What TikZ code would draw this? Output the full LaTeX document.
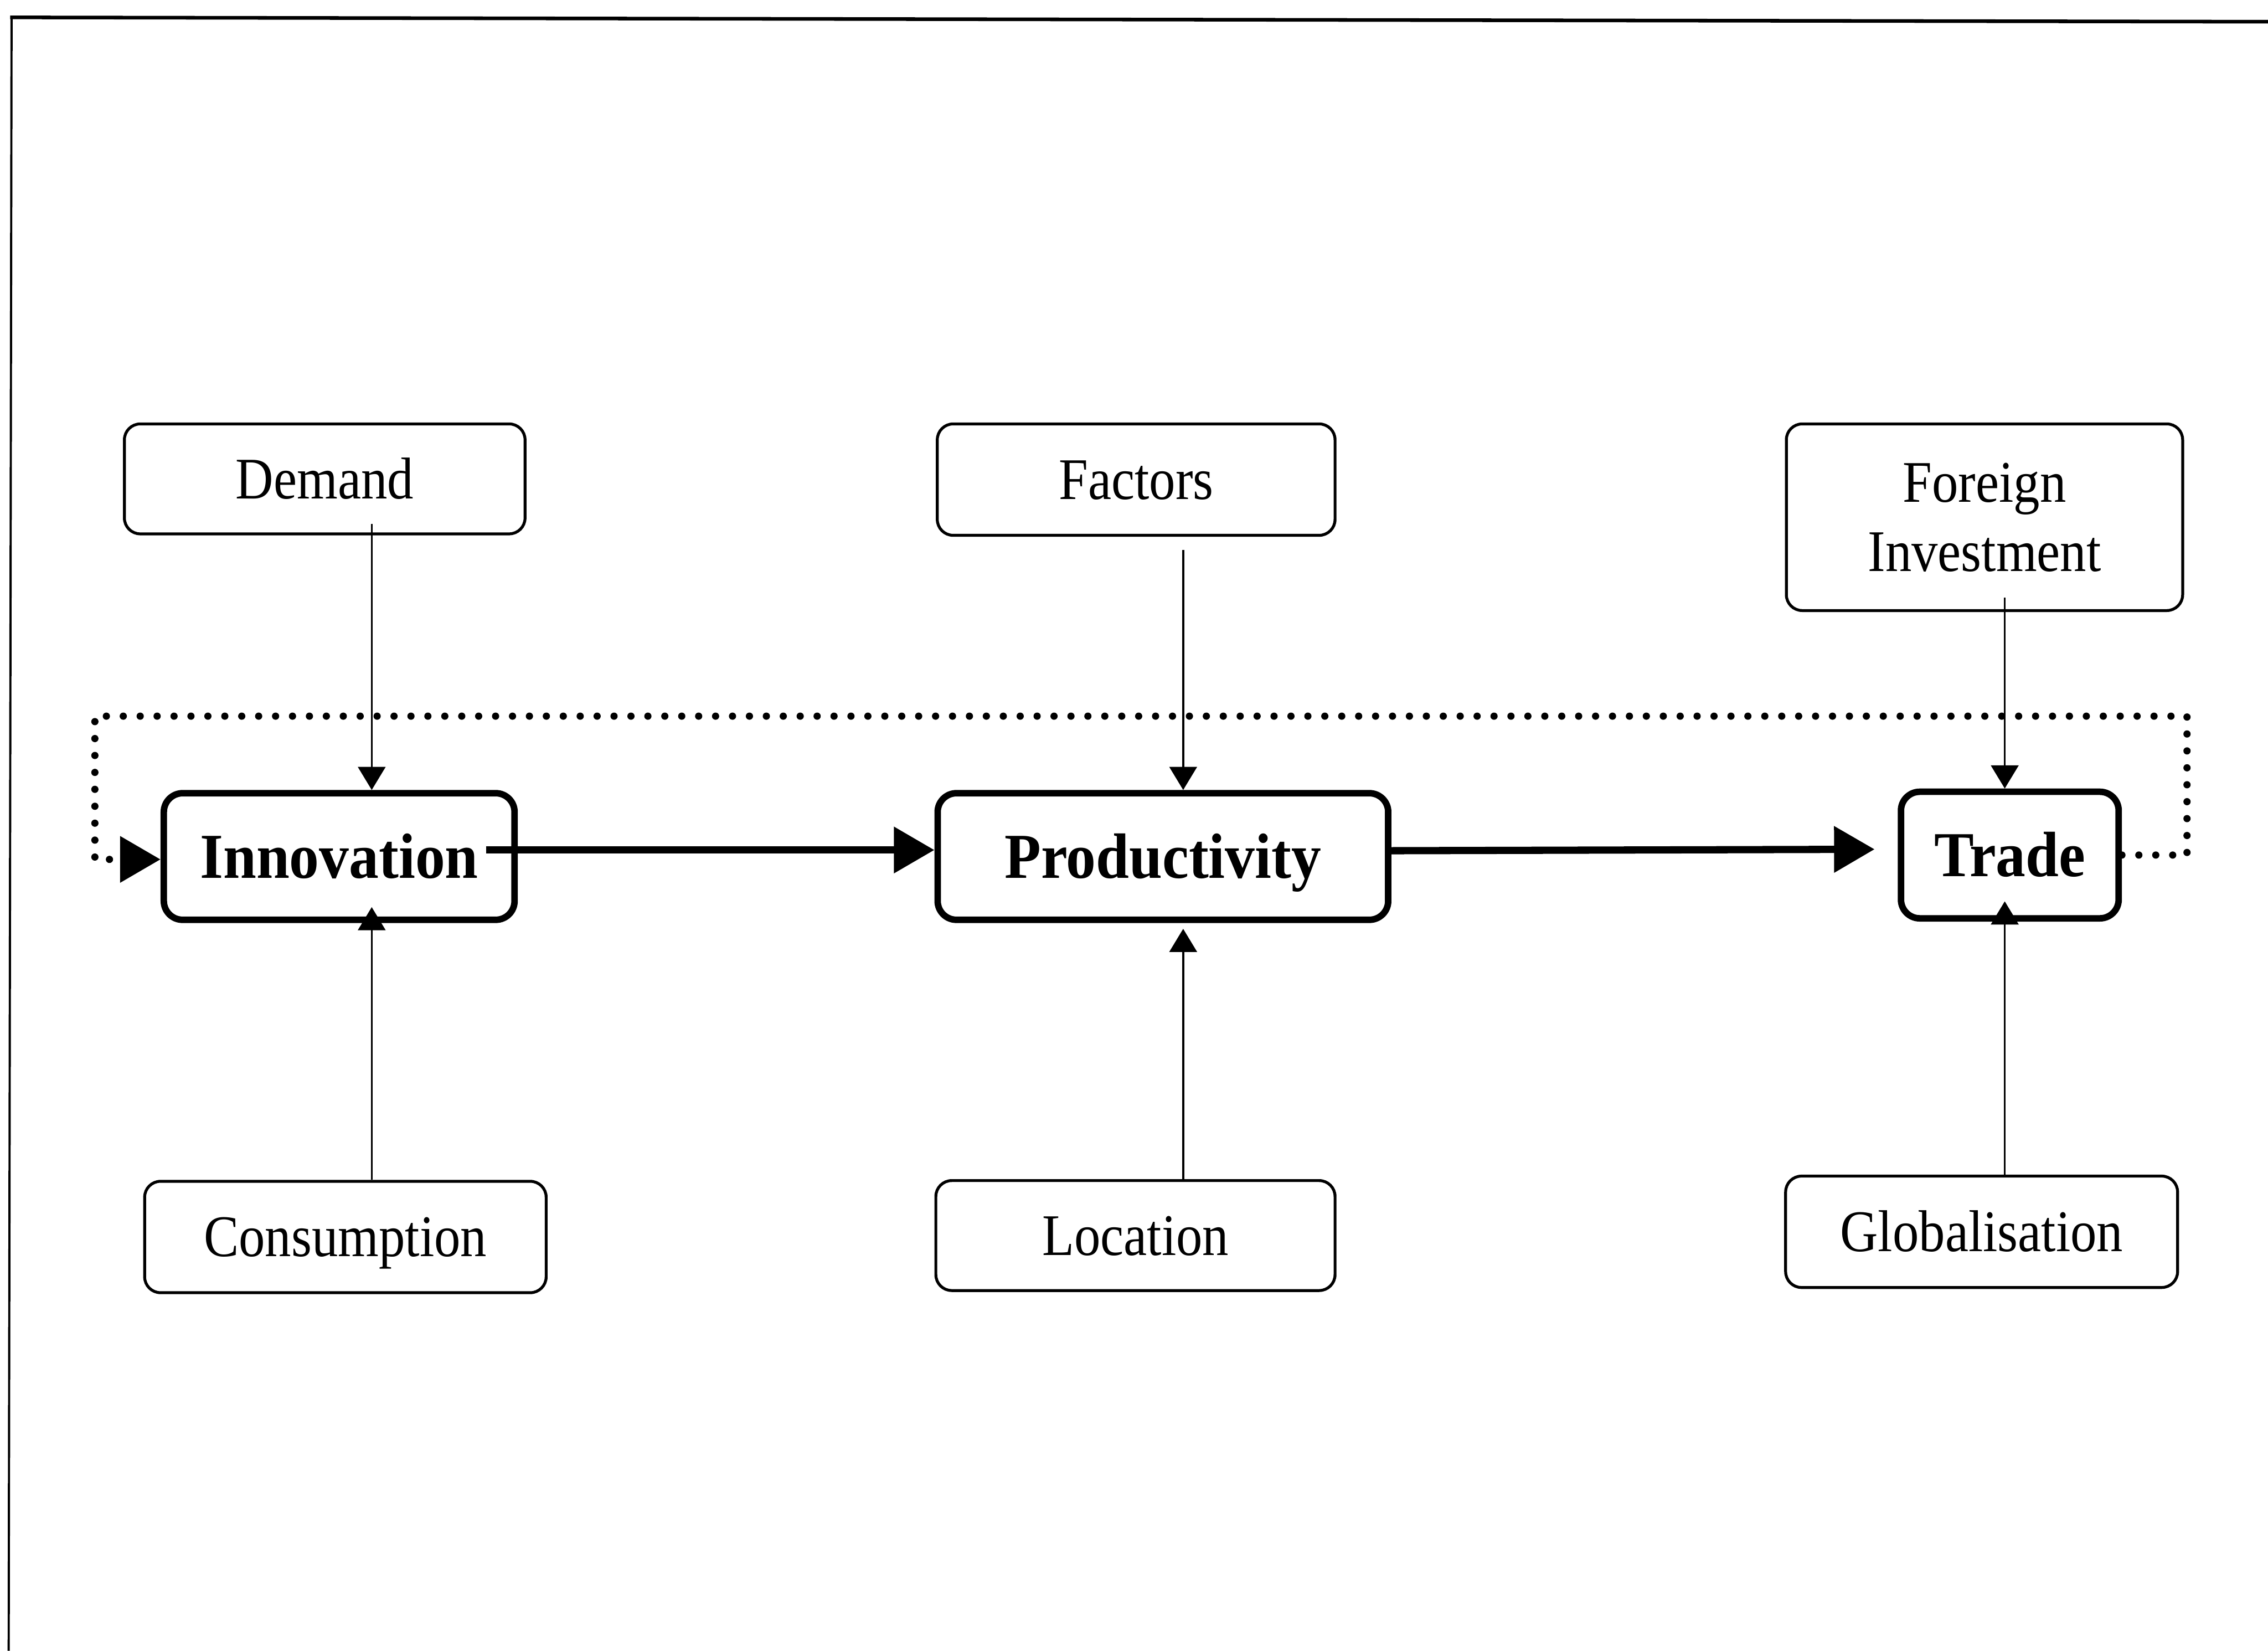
\documentclass[tikz,border=0pt]{standalone}
\usepackage{fontspec}
\setmainfont{Liberation Serif}
\newfontfamily\regfont{Liberation Serif}[FakeStretch=0.89]
\newfontfamily\boldfont{Liberation Serif}[FakeStretch=0.93]
\usetikzlibrary{arrows.meta}
\begin{document}
\begin{tikzpicture}[x=0.1mm,y=-0.1mm,
  smallbox/.style={draw, rounded corners=1.1mm, line width=0.2mm, inner sep=0pt,
    font=\regfont\fontsize{11.6}{13.6}\selectfont, align=center},
  onerow/.style={text height=7.7pt, text depth=0pt},
  mainbox/.style={draw, rounded corners=1.3mm, line width=0.45mm, inner sep=0pt,
    text height=8.5pt, text depth=0pt,
    font=\boldfont\bfseries\fontsize{12.6}{14}\selectfont},
  thinarrow/.style={line width=0.14mm, -{Triangle[length=1.6mm,width=1.9mm]}},
  thickarrow/.style={line width=0.5mm, -{Triangle[length=2.8mm,width=3.1mm]}},
  dotline/.style={line width=0.5mm, dash pattern=on 0pt off 1.17mm, line cap=round,
    -{Triangle[length=2.8mm,width=3.1mm]}},
  framestroke/.style={line width=#1}
]
\useasboundingbox (0,0) rectangle (1568,1141);

% frame
\draw[framestroke=0.25mm] (7,12) -- (1568,15);
\draw[framestroke=0.15mm] (8,12) -- (6,1141);

% top boxes
\node[smallbox, onerow, minimum width=27.7mm, minimum height=7.6mm] (demand) at (224.5,331) {Demand};
\node[smallbox, onerow, minimum width=27.5mm, minimum height=7.7mm] (factors) at (785.5,331.5) {Factors};
\node[smallbox, minimum width=27.4mm, minimum height=12.9mm] (foreign) at (1372,357.5) {Foreign\\Investment};

% main boxes
\node[mainbox, minimum width=24.25mm, minimum height=8.75mm] (innov) at (234.5,592) {Innovation};
\node[mainbox, minimum width=31.15mm, minimum height=8.75mm] (prod) at (804,592) {Productivity};
\node[mainbox, minimum width=15.05mm, minimum height=8.75mm] (trade) at (1389.5,591) {Trade};

% bottom boxes
\node[smallbox, onerow, minimum width=27.76mm, minimum height=7.7mm] (cons) at (238.8,855) {Consumption};
\node[smallbox, onerow, minimum width=27.6mm, minimum height=7.6mm] (loc) at (785,854) {Location};
\node[smallbox, onerow, minimum width=27.1mm, minimum height=7.7mm] (glob) at (1370,851.4) {Globalisation};

% column coordinates
\coordinate (c1) at (257,0);
\coordinate (c2) at (818,0);
\coordinate (c3) at (1386,0);

% thin vertical arrows
\draw[thinarrow] ([yshift=0.8mm]demand.south -| c1) -- (innov.north -| c1);
\draw[thinarrow] ([yshift=-0.9mm]factors.south -| c2) -- (prod.north -| c2);
\draw[thinarrow] ([yshift=1mm]foreign.south -| c3) -- (trade.north -| c3);
\draw[thinarrow] (cons.north -| c1) -- ([yshift=1.1mm]innov.south -| c1);
\draw[thinarrow] (loc.north -| c2) -- ([yshift=-0.4mm]prod.south -| c2);
\draw[thinarrow] (glob.north -| c3) -- ([yshift=1.4mm]trade.south -| c3);

% thick arrows
\draw[thickarrow] ([xshift=-2.2mm,yshift=0.45mm]innov.east) -- ([yshift=0.45mm]prod.west);
\draw[thickarrow] ([yshift=0.4mm]prod.east) -- ([xshift=-1.6mm,yshift=0.4mm]trade.west);

% dotted feedback loop
\coordinate (dR) at (1512,495);
\coordinate (dL) at (65.6,495);
\draw[dotline] (trade.east) -| (dR) -- (dL) |- ([yshift=-0.2mm]innov.west);
\end{tikzpicture}
\end{document}
